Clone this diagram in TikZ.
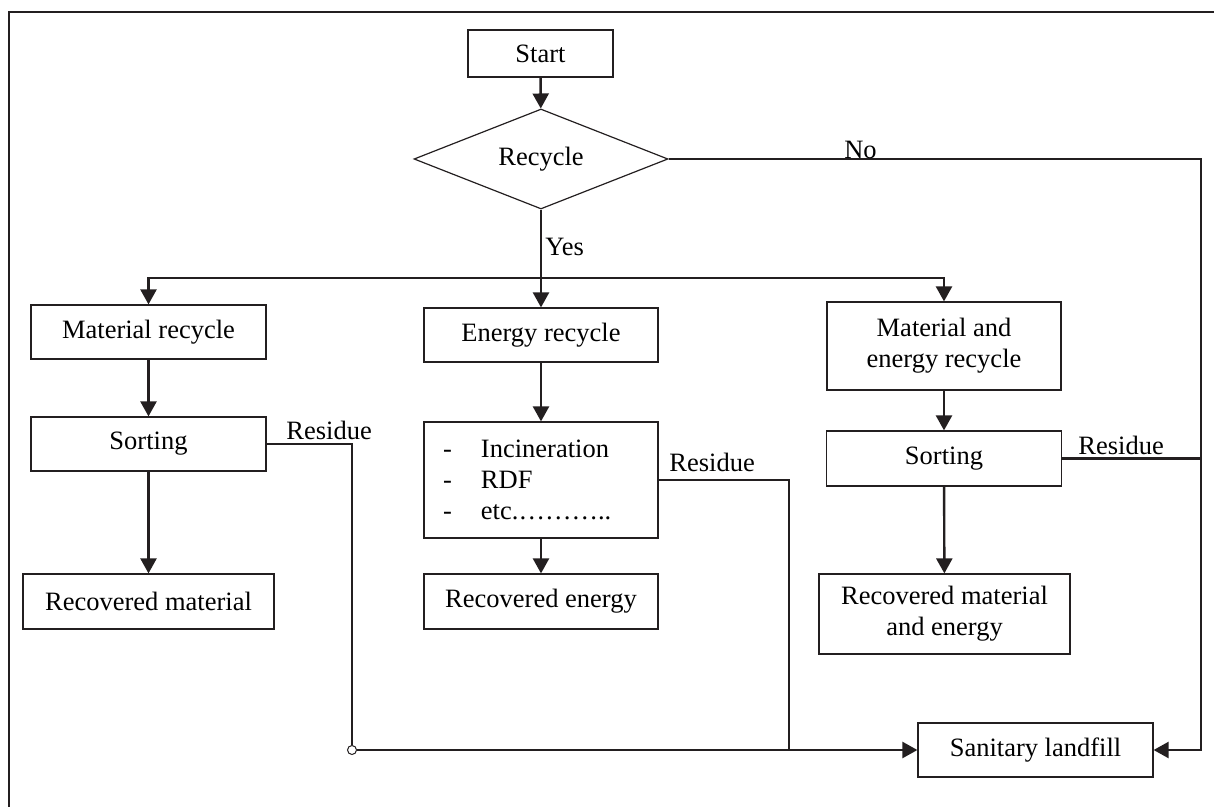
\documentclass[tikz,border=0pt]{standalone}
\usepackage{fontspec}
\setmainfont{Liberation Serif}
\usetikzlibrary{arrows.meta,shapes.geometric}
\definecolor{ink}{RGB}{35,31,32}
\tikzset{
  box/.style={draw=ink,line width=0.6pt,rectangle,inner sep=0pt,align=center,
    font=\fontsize{13.25}{15.5}\selectfont},
  dec/.style={draw=ink,line width=0.6pt,diamond,shape aspect=2.54,inner sep=0pt,
    minimum width=127pt,minimum height=50pt,font=\fontsize{13.25}{15.5}\selectfont},
  lab/.style={inner sep=0pt,font=\fontsize{13.25}{15.5}\selectfont},
  conn/.style={draw=ink,line width=1.2pt},
  arr/.style={conn,-{Triangle[length=7.5pt,width=8pt]}},
  frameline/.style={draw=ink,line width=1.3pt},
  junction/.style={circle,draw=ink,fill=white,line width=0.5pt,inner sep=0pt,minimum size=4.5pt}
}
\newcommand{\dashitem}[1]{\makebox[19pt][l]{-}#1}
\begin{document}
\begin{tikzpicture}[x=0.5pt,y=-0.5pt]
\useasboundingbox (0,0) rectangle (1214,807);
\draw[frameline] (1214,12) -- (9,12) -- (9,807);

\node[box,minimum width=72.5pt,minimum height=23.5pt] (start) at (540.5,53.5) {Start};
\node[dec] (recycle) at (541,159) {Recycle};

\node[box,minimum width=117.5pt,minimum height=27pt] (matrec) at (148.5,332) {Material recycle};
\node[box,minimum width=117.5pt,minimum height=27pt] (sort1) at (148.5,444) {Sorting};
\node[box,minimum width=125.5pt,minimum height=27.5pt] (recmat) at (148.5,601.5) {Recovered material};

\node[box,minimum width=117pt,minimum height=27pt] (enrec) at (541,335) {Energy recycle};
\node[box,minimum width=117pt,minimum height=58pt,text width=98pt,inner xsep=9.5pt,align=left] (incin) at (541,480)
  {\dashitem{Incineration}\\\dashitem{RDF}\\\dashitem{etc.………..}};
\node[box,minimum width=117pt,minimum height=27.5pt] (recen) at (541,601.5) {Recovered energy};

\node[box,minimum width=117pt,minimum height=44pt] (merec) at (944,346) {Material and\\energy recycle};
\node[box,minimum width=117.5pt,minimum height=27.5pt] (sort3) at (944,458.5) {Sorting};
\node[box,minimum width=125.5pt,minimum height=40pt] (recme) at (944.5,614) {Recovered material\\and energy};

\node[box,minimum width=117.5pt,minimum height=27pt] (landfill) at (1035.5,750) {Sanitary landfill};

% top part
\draw[arr] (start) -- (recycle);
\coordinate (branch) at (541,278);
\draw[arr] (recycle.south) -- (enrec.north);
\draw[arr] (branch) -| (matrec.north);
\draw[arr] (branch) -| (merec.north);
\node[lab,anchor=base west] (yes) at (545,256) {Yes};

% No path
\coordinate (nocorner) at (1201,159);
\draw[arr] (recycle.east) -- (nocorner) |- (landfill.east);
\node[lab,anchor=base] (no) at (860.5,158.5) {No};

% left column
\draw[arr] (matrec) -- (sort1);
\draw[arr] (sort1) -- (recmat);
\node[junction] (jc) at (352,750) {};
\draw[conn] (sort1.east) -| (jc.north);
\draw[arr] (jc.east) -- (landfill.west);
\node[lab,anchor=base west] (res1) at (286,439) {Residue};

% middle column
\draw[arr] (enrec) -- (incin);
\draw[arr] (incin) -- (recen);
\coordinate (j2) at (789,750);
\draw[conn] (incin.east) -| (j2);
\node[lab,anchor=base west] (res2) at (669,471) {Residue};

% right column
\draw[arr] (merec) -- (sort3);
\draw[arr] (sort3) -- (recme);
\draw[conn] (sort3.east) -- (sort3.east -| nocorner);
\node[lab,anchor=base west] (res3) at (1078,454) {Residue};
\end{tikzpicture}
\end{document}
